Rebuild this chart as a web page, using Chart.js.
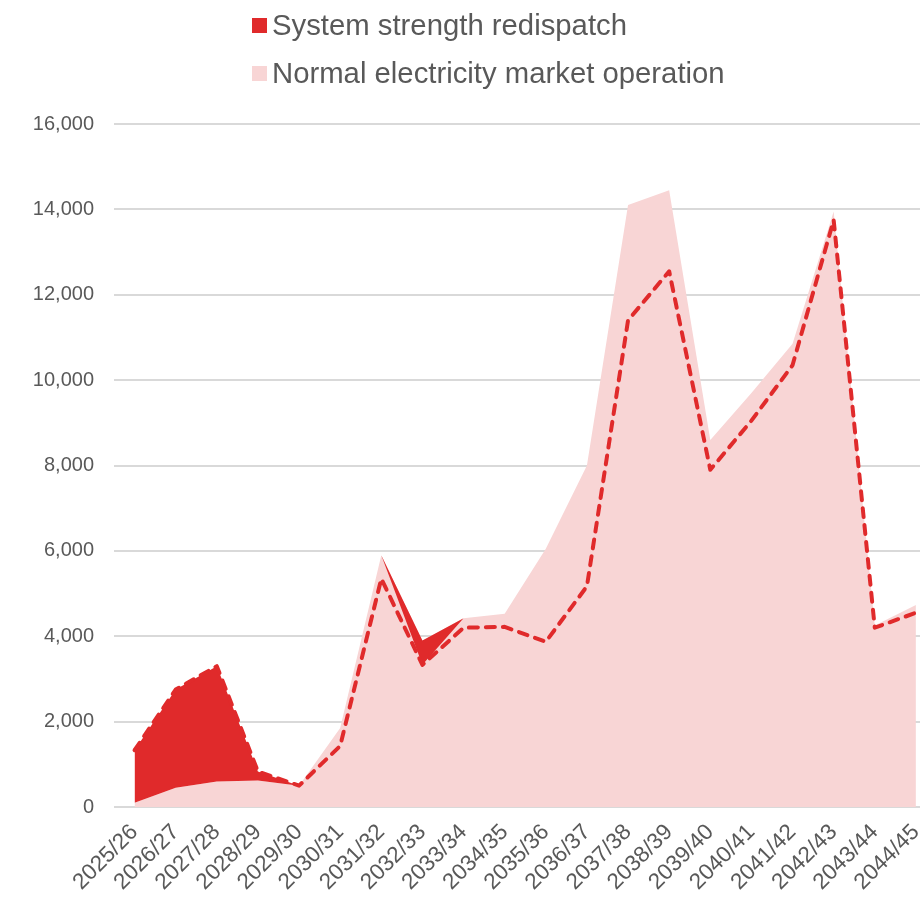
<!DOCTYPE html>
<html>
<head>
<meta charset="utf-8">
<script src="https://cdn.jsdelivr.net/npm/chart.js@4/dist/chart.umd.min.js"></script>
<style>
  html, body { margin: 0; padding: 0; background: #ffffff; overflow: hidden; }
  #wrap { position: relative; width: 947px; height: 902px; }
  #legend { position: absolute; left: 252px; top: 1px; font-family: "Liberation Sans", Arial, sans-serif; font-size: 29.3px; color: #595959; }
  .row { height: 48px; display: flex; align-items: center; white-space: nowrap; }
  .swatch { width: 15px; height: 15px; margin-right: 5px; flex: none; }
</style>
</head>
<body>
<div id="wrap">
  <canvas id="chart"></canvas>
  <div id="legend"></div>
</div>
<script>
// Financial years on the category axis
const categories = ['2025/26', '2026/27', '2027/28', '2028/29', '2029/30', '2030/31', '2031/32',
  '2032/33', '2033/34', '2034/35', '2035/36', '2036/37', '2037/38', '2038/39', '2039/40',
  '2040/41', '2041/42', '2042/43', '2043/44', '2044/45'];

// Normal electricity market operation
const normalOperation = [100, 450, 600, 620, 500, 1850, 5900, 3900, 4420, 4530, 6050, 8000,
  14100, 14450, 8600, 9700, 10850, 13950, 4250, 4730];

// Outcome with system strength redispatch (dashed line)
const redispatchCase = [1330, 2750, 3300, 830, 500, 1430, 5350, 3330, 4200, 4220, 3870, 5170,
  11400, 12550, 7900, 9050, 10350, 13750, 4200, 4550];

// Shaded redispatch band (filled against the normal operation series)
const redispatchBand = [1330, 2750, 3300, 830, 500, null, 5900, 3330, 4420, null, null, null,
  null, null, null, null, null, null, null, null];

// Y-axis ticks
const yTicks = [0, 2000, 4000, 6000, 8000, 10000, 12000, 14000, 16000];

const RED = '#e02a2b';
const PINK = '#f8d5d5';
const TEXT = '#595959';
const GRID = '#d9d9d9';
const FONT = '"Liberation Sans", Arial, sans-serif';

const ctx = document.getElementById('chart');
const chart = new Chart(ctx, {
  type: 'line',
  data: {
    labels: categories,
    datasets: [
      {
        label: 'redispatch line',
        data: redispatchCase,
        borderColor: RED,
        borderWidth: 4,
        borderDash: [9, 8],
        borderCapStyle: 'round',
        borderJoinStyle: 'round',
        pointRadius: 0,
        fill: false,
        tension: 0
      },
      {
        label: 'System strength redispatch',
        data: redispatchBand,
        borderWidth: 0,
        borderColor: 'rgba(0,0,0,0)',
        backgroundColor: RED,
        pointRadius: 0,
        spanGaps: false,
        fill: { target: 2 },
        tension: 0
      },
      {
        label: 'Normal electricity market operation',
        data: normalOperation,
        borderWidth: 0,
        borderColor: 'rgba(0,0,0,0)',
        backgroundColor: PINK,
        pointRadius: 0,
        fill: 'origin',
        tension: 0
      }
    ]
  },
  options: {
    responsive: true,
    maintainAspectRatio: false,
    animation: false,
    layout: { padding: { top: 124, left: 0, right: 0, bottom: 0 } },
    plugins: {
      legend: { display: false },
      tooltip: { enabled: false }
    },
    scales: {
      x: {
        offset: true,
        grid: { display: false, drawTicks: false },
        border: { display: false },
        ticks: {
          autoSkip: false,
          maxRotation: 45,
          minRotation: 45,
          padding: 12,
          color: TEXT,
          font: { family: FONT, size: 22.5 }
        },
        afterFit: (scale) => { scale.height = 95; }
      },
      y: {
        min: 0,
        max: 16000,
        afterBuildTicks: (scale) => { scale.ticks = yTicks.map(v => ({ value: v })); },
        grid: { color: GRID, lineWidth: 2, drawTicks: false },
        border: { display: false },
        ticks: {
          padding: 20,
          color: TEXT,
          font: { family: FONT, size: 20 },
          callback: (v) => v.toLocaleString('en-US')
        },
        afterFit: (scale) => { scale.width = 114; }
      }
    }
  }
});

// Legend built from the dataset labels and colours
const legend = document.getElementById('legend');
[chart.data.datasets[1], chart.data.datasets[2]].forEach(ds => {
  const row = document.createElement('div');
  row.className = 'row';
  const sw = document.createElement('span');
  sw.className = 'swatch';
  sw.style.background = ds.backgroundColor;
  const txt = document.createElement('span');
  txt.textContent = ds.label;
  row.appendChild(sw);
  row.appendChild(txt);
  legend.appendChild(row);
});
</script>
</body>
</html>
